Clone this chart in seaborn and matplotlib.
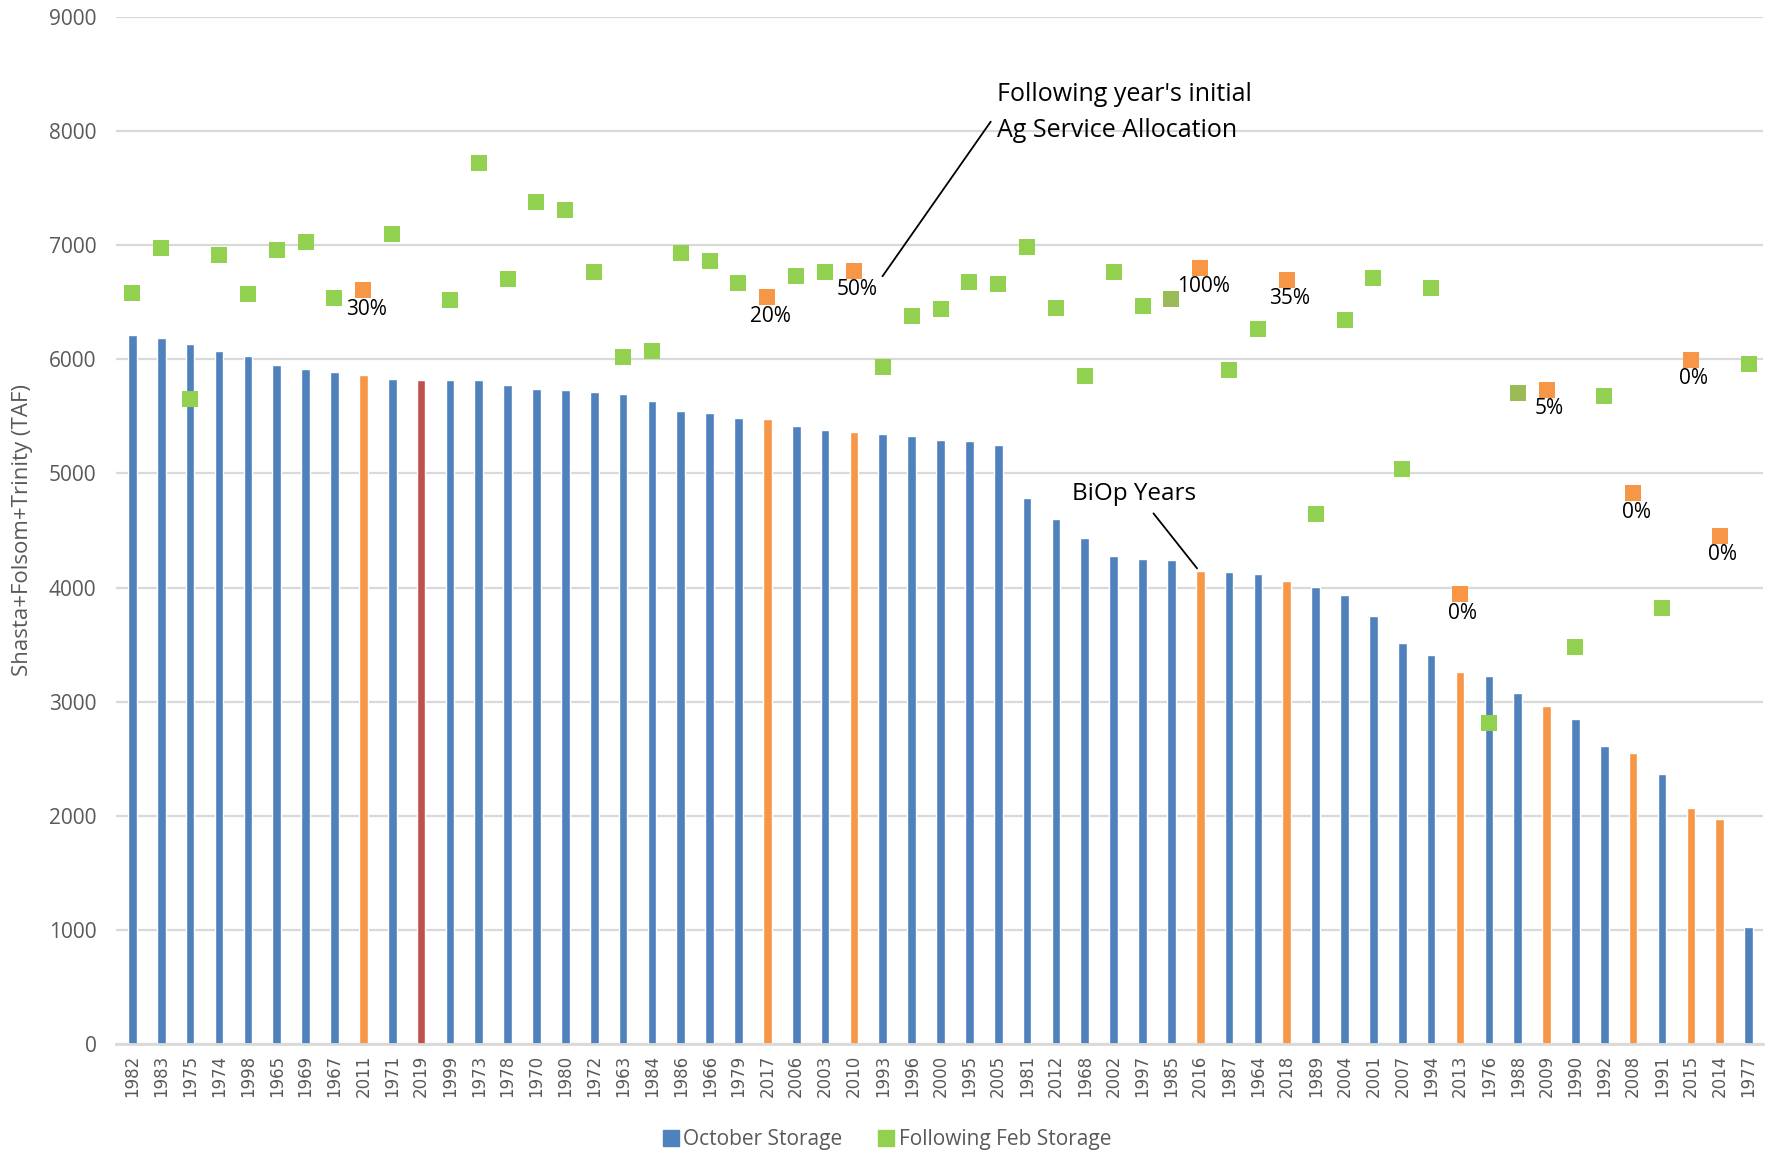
import numpy as np
import pandas as pd
import matplotlib
matplotlib.use("Agg")
import matplotlib.pyplot as plt
import seaborn as sns
from matplotlib.lines import Line2D

# ---------------- data ----------------
years = ["1982", "1983", "1975", "1974", "1998", "1965", "1969", "1967", "2011", "1971",
         "2019", "1999", "1973", "1978", "1970", "1980", "1972", "1963", "1984", "1986",
         "1966", "1979", "2017", "2006", "2003", "2010", "1993", "1996", "2000", "1995",
         "2005", "1981", "2012", "1968", "2002", "1997", "1985", "2016", "1987", "1964",
         "2018", "1989", "2004", "2001", "2007", "1994", "2013", "1976", "1988", "2009",
         "1990", "1992", "2008", "1991", "2015", "2014", "1977"]

october_storage = [6209, 6185, 6130, 6074, 6029, 5946, 5911, 5885, 5867, 5825,
                   5820, 5820, 5815, 5774, 5742, 5734, 5710, 5695, 5637, 5549,
                   5526, 5488, 5479, 5415, 5380, 5365, 5347, 5324, 5289, 5280,
                   5251, 4781, 4597, 4431, 4276, 4250, 4241, 4145, 4133, 4121,
                   4057, 4004, 3931, 3750, 3514, 3409, 3260, 3225, 3076, 2962,
                   2848, 2612, 2550, 2366, 2069, 1972, 1026]

following_feb_storage = [6577, 6974, 5651, 6915, 6574, 6962, 7026, 6539, 6606, 7102,
                         np.nan, 6521, 7718, 6708, 7377, 7310, 6761, 6019, 6077, 6933,
                         6866, 6673, 6542, 6731, 6761, 6775, 5934, 6381, 6439, 6679,
                         6664, 6985, 6448, 5853, 6761, 6463, 6533, 6804, 5908, 6270,
                         6696, 4647, 6343, 6711, 5035, 6629, 3943, 2810, 5704, 5734,
                         3482, 5681, 4825, 3818, 5996, 4454, 5958]

biop_years = ["2011", "2017", "2010", "2016", "2018", "2013", "2009", "2008", "2015", "2014"]
current_year = "2019"
dry_marker_years = ["1985", "1988"]

allocation_labels = {"2011": "30%", "2017": "20%", "2010": "50%", "2016": "100%",
                     "2018": "35%", "2013": "0%", "2009": "5%", "2008": "0%",
                     "2015": "0%", "2014": "0%"}

bar_group = ["biop" if y in biop_years else ("current" if y == current_year else "normal")
             for y in years]
marker_group = ["alloc" if y in biop_years else ("dry" if y in dry_marker_years else "feb")
                for y in years]

df = pd.DataFrame({"year": years, "oct": october_storage, "feb": following_feb_storage,
                   "bar_group": bar_group, "marker_group": marker_group})

# ---------------- style ----------------
BLUE, ORANGE, RED = "#4F81BD", "#F79646", "#C0504D"
GREEN, OLIVE = "#92D050", "#9BBB59"
GRID, TXT = "#D9D9D9", "#595959"

sns.set_theme(style="white")
plt.rcParams["font.family"] = ["Open Sans", "DejaVu Sans"]

fig = plt.figure(figsize=(17.72, 11.57), dpi=100)
ax = fig.add_axes([116 / 1772, 1 - 1044 / 1157, (1763 - 116) / 1772, (1044 - 17) / 1157])

sns.barplot(data=df, x="year", y="oct", hue="bar_group", order=years,
            palette={"normal": BLUE, "biop": ORANGE, "current": RED},
            dodge=False, width=0.3, saturation=1, legend=False, ax=ax, zorder=2)

sns.stripplot(data=df, x="year", y="feb", hue="marker_group", order=years,
              palette={"feb": GREEN, "alloc": ORANGE, "dry": OLIVE},
              jitter=False, dodge=False, marker="s", size=11, linewidth=0,
              legend=False, ax=ax, zorder=3)

# allocation labels
for i, yr in enumerate(years):
    if yr in allocation_labels:
        ax.annotate(allocation_labels[yr], (i, df["feb"][i]), xytext=(3, -19),
                    textcoords="offset pixels", ha="center", va="center",
                    fontsize=15, color="black")

# annotations
ax.text(29.95, 8165, "Following year's initial\nAg Service Allocation", ha="left",
        va="center", fontsize=18, color="black", linespacing=1.6)
ax.plot([25.99, 29.74], [6728, 8083], color="black", lw=1.3, zorder=4)

ax.text(32.55, 4816, "BiOp Years", ha="left", va="center", fontsize=17.5, color="black")
ax.plot([35.38, 36.89], [4650, 4168], color="black", lw=1.3, zorder=4)

# axes
ax.set_xlim(-0.57, 56.5)
ax.set_ylim(0, 9000)
ax.set_yticks(range(0, 9001, 1000))
ax.yaxis.grid(True, color=GRID, lw=1.6, zorder=0)
ax.set_axisbelow(True)
for s in ["top", "right", "left"]:
    ax.spines[s].set_visible(False)
ax.spines["bottom"].set_color(GRID)
ax.spines["bottom"].set_linewidth(2)
ax.tick_params(axis="y", length=0, pad=14, labelsize=15, labelcolor=TXT)
ax.tick_params(axis="x", length=0, pad=8, labelsize=12, labelcolor=TXT, rotation=90)
for lab in ax.get_xticklabels():
    lab.set_fontfamily("DejaVu Sans")
ax.set_xlabel("")
ax.set_ylabel("Shasta+Folsom+Trinity (TAF)", fontsize=16, color=TXT)
ax.yaxis.set_label_coords(-0.0505, 0.5)

handles = [Line2D([], [], marker="s", ls="", color=BLUE, markersize=11),
           Line2D([], [], marker="s", ls="", color=GREEN, markersize=11)]
fig.legend(handles, ["October Storage", "Following Feb Storage"], loc="center",
           bbox_to_anchor=(0.5, 1 - 1140 / 1157), ncol=2, frameon=False,
           fontsize=15, labelcolor=TXT, handletextpad=0.1, columnspacing=1.6,
           handlelength=1.0)

fig.savefig("out.png", dpi=100)
